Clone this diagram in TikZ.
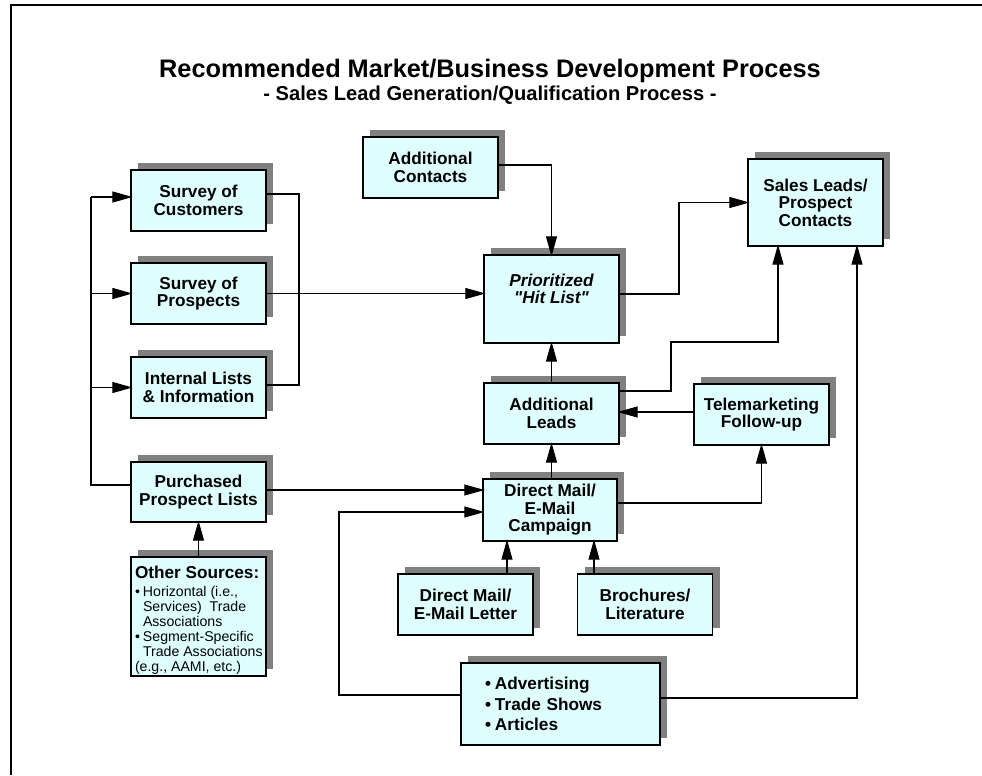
\documentclass[tikz,border=0pt]{standalone}
\usepackage{fontspec}
\setmainfont{Liberation Sans}
% same family without the TeX quote mapping, for straight quotes
\newfontfamily\straightquotes{Liberation Sans}
\usetikzlibrary{arrows.meta,shadows}
\definecolor{boxfill}{HTML}{DFFFFF}
\definecolor{shade}{HTML}{808080}
\newcommand{\dq}{{\straightquotes\char34}}
\begin{document}
\begin{tikzpicture}[x=0.75pt,y=-0.75pt,
  box/.style={draw=black, line width=0.9pt, fill=boxfill, align=center,
    minimum width=101.25pt, minimum height=45.75pt, inner sep=2pt,
    font=\bfseries\fontsize{12.9}{13.1}\selectfont,
    drop shadow={shadow xshift=5.25pt, shadow yshift=5.5pt, fill=shade, opacity=1}},
  link/.style={line width=0.8pt, draw=black},
  arr/.style={link, -{Triangle[length=15pt,width=8.25pt]}, shorten >=-1.5pt}]
\useasboundingbox (0,0) rectangle (982,775);

% page frame (open at right and bottom)
\draw[line width=1.5pt] (11,775) -- (11,5) -- (982,5);

% headings
\node[font=\bfseries\fontsize{19}{23}\selectfont, anchor=base] (title) at (490,77)
  {Recommended Market/Business Development Process};
\node[font=\bfseries\fontsize{15.1}{18}\selectfont, anchor=base] (sub) at (490,100)
  {- Sales Lead Generation/Qualification Process -};

% left column
\node[box] (sc)  at (198.5,200.5) {Survey of\\Customers};
\node[box] (sp)  at (198.5,293.5) {Survey of\\Prospects};
\node[box] (il)  at (198.5,387.5) {Internal Lists\\\& Information};
\node[box, minimum height=45pt] (pur) at (198.5,492) {Purchased\\Prospect Lists};
\node[box, minimum height=89.25pt, inner xsep=0pt] (oth) at (198.5,616.5)
  {\makebox[95.25pt][l]{\mdseries\fontsize{10.6}{11.25}\selectfont
   \raisebox{-3.5pt}[\height][\depth]{%
   \begin{tabular}{@{}l@{}}
   {\bfseries\fontsize{12.9}{14}\selectfont Other Sources:}\\[2pt]
   \makebox[6pt][l]{\textbullet}Horizontal (i.e.,\\
   \hspace*{6pt}Services)\ \ Trade\\
   \hspace*{6pt}Associations\\
   \makebox[6pt][l]{\textbullet}Segment-Specific\\
   \hspace*{6pt}Trade Associations\\
   (e.g., AAMI, etc.)
   \end{tabular}}}};

% centre column
\node[box] (ac)  at (430.5,167.5) {Additional\\Contacts};
\node[box, minimum height=66pt, font=\bfseries\itshape\fontsize{12.9}{13.1}\selectfont] (hit) at (551.5,299)
  {Prioritized\\\dq Hit List\dq\\[-2pt]\strut};
\node[box] (al)  at (551.5,413.5) {Additional\\Leads};
\node[box, minimum width=100.5pt, minimum height=46.5pt] (cam) at (550,510) {Direct Mail/\\E-Mail\\Campaign};
\node[box] (let) at (465.5,604.5) {Direct Mail/\\E-Mail Letter};
\node[box] (bro) at (645,604.5) {Brochures/\\Literature};
\node[box, minimum width=149.25pt, minimum height=61.5pt, text width=113.25pt, inner xsep=18pt, align=left,
      font=\bfseries\fontsize{12.9}{15.5}\selectfont] (adv) at (560.5,704)
  {\makebox[7.5pt][l]{\textbullet}Advertising\\
   \makebox[7.5pt][l]{\textbullet}Trade Shows\\
   \makebox[7.5pt][l]{\textbullet}Articles};

% right column
\node[box, minimum height=65.25pt] (sl) at (815.5,202.5) {Sales Leads/\\Prospect\\Contacts};
\node[box] (tm)  at (761.5,414.5) {Telemarketing\\Follow-up};

% left feed bus
\coordinate (busT) at (91,197);
\coordinate (busB) at (91,485);
\draw[link] (pur.west |- busB) -- (busB) -- (busT);
\draw[arr] (busT) -- (sc.west |- busT);
\draw[arr] (busT |- sp.west) -- (sp.west);
\draw[arr] (busT |- il.west) -- (il.west);

% survey outputs joined on the right
\coordinate (jT) at (299,194);
\coordinate (jB) at (299,385);
\draw[link] (sc.east |- jT) -- (jT) -- (jB) -- (il.east |- jB);
\draw[arr] (sp.east) -- (hit.west |- sp.east);

% additional contacts into the hit list
\coordinate (acR) at (551.5,165);
\draw[arr] (ac.east |- acR) -- (acR) -- (hit.north);

% hit list to sales leads
\coordinate (h1) at (679,294);
\draw[arr] (hit.east |- h1) -- (h1) |- (sl.west);

% additional leads to sales leads
\coordinate (k1) at (671,391);
\coordinate (k2) at (671,342);
\coordinate (k3) at (778,342);
\draw[arr] (al.east |- k1) -- (k1) -- (k2) -- (k3) -- (k3 |- sl.south);

% telemarketing back into additional leads
\coordinate (t1) at (700,412);
\draw[arr] (tm.west |- t1) -- (al.east |- t1);

\draw[arr] (al.north) -- (hit.south);
\draw[arr] (al.south |- cam.north) -- (al.south);

% campaign to telemarketing
\coordinate (c1) at (761.5,503);
\draw[arr] (cam.east |- c1) -- (c1) -- (tm.south);

% purchased lists into the campaign
\coordinate (p1) at (300,490);
\draw[arr] (pur.east |- p1) -- (cam.west |- p1);

% advertising loops
\coordinate (a1) at (339,695);
\coordinate (a2) at (339,512);
\draw[arr] (adv.west |- a1) -- (a1) -- (a2) -- (cam.west |- a2);
\coordinate (a3) at (857,698);
\draw[arr] (adv.east |- a3) -- (a3) -- (a3 |- sl.south);

% mailing material into the campaign
\coordinate (l1) at (507,580);
\draw[arr] (l1 |- let.north) -- (l1 |- cam.south);
\coordinate (b1) at (594,580);
\draw[arr] (b1 |- bro.north) -- (b1 |- cam.south);

\draw[arr] (oth.north) -- (pur.south);
\end{tikzpicture}
\end{document}
